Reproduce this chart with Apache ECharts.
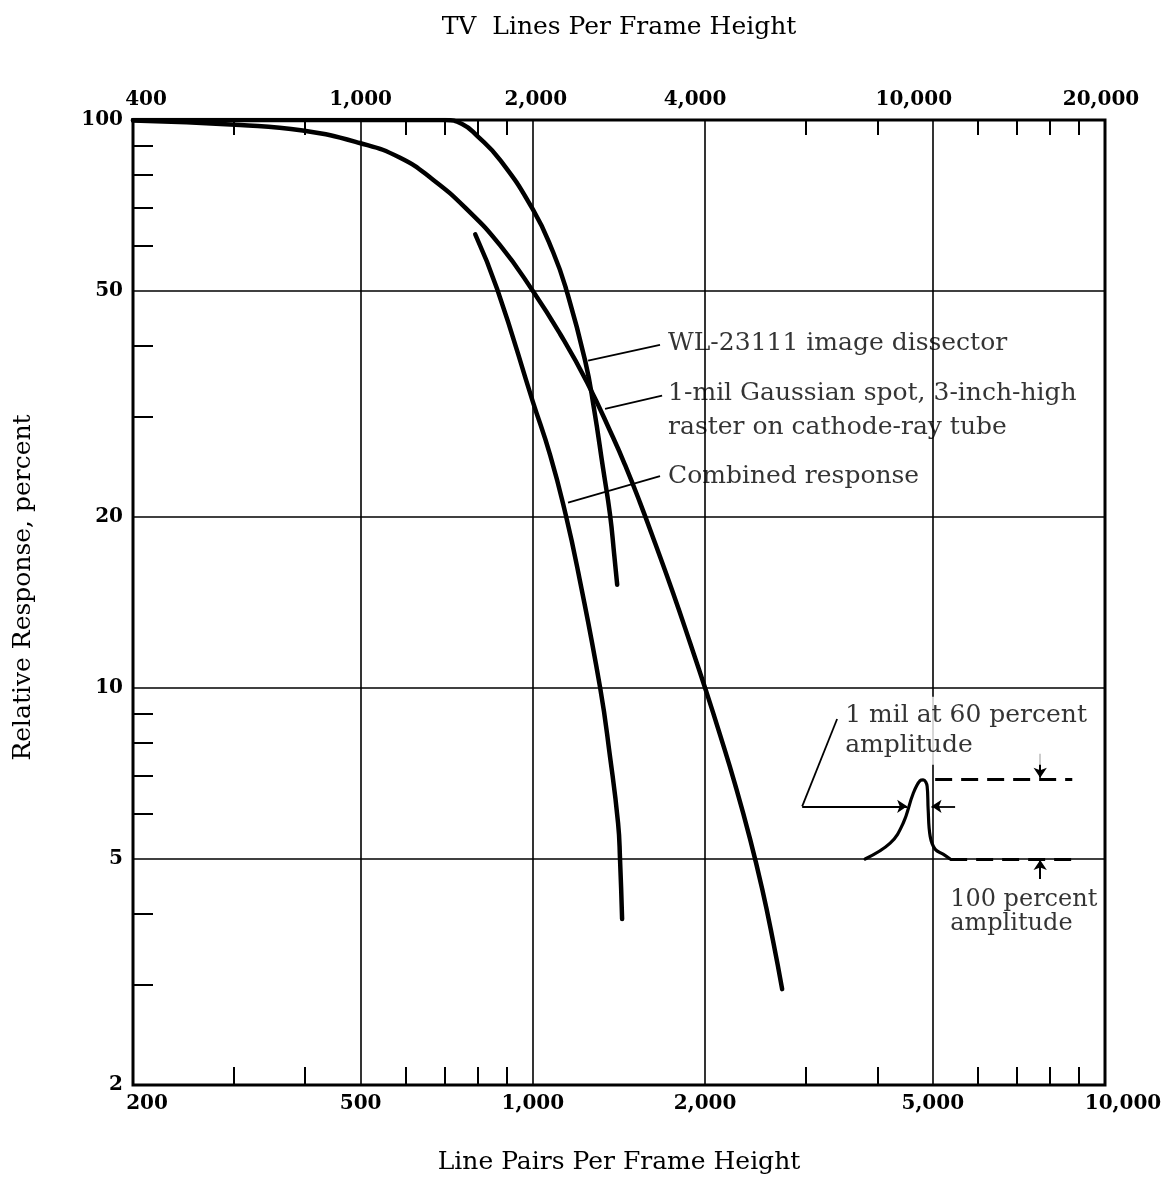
<!DOCTYPE html>
<html>
<head>
<meta charset="utf-8">
<title>Relative response vs. line pairs per frame height</title>
<script src="https://cdn.jsdelivr.net/npm/echarts@6/dist/echarts.min.js"></script>
<style>
  html, body { margin: 0; padding: 0; background: #fff; }
  #chart { width: 1165px; height: 1180px; }
</style>
</head>
<body>
<div id="chart"></div>
<script>
// ---- axes: line pairs per frame height (bottom); TV lines = 2 x line pairs (top) ----
const lpLabelValues = [200, 500, 1000, 2000, 5000, 10000];
const lpMinorTicks = [300, 400, 600, 700, 800, 900, 3000, 4000, 6000, 7000, 8000, 9000];
const tvLabelValues = [400, 1000, 2000, 4000, 10000, 20000];
const tvMinorTicks = [600, 800, 1200, 1400, 1600, 1800, 6000, 8000, 12000, 14000, 16000, 18000];
const pctLabelValues = [2, 5, 10, 20, 50, 100];
const pctMinorTicks = [3, 4, 6, 7, 8, 9, 30, 40, 60, 70, 80, 90];
const lpGridValues = [500, 1000, 2000, 5000];
const pctGridValues = [5, 10, 20, 50];

// ---- response curves (line pairs, percent) ----
const dissectorLp  = [200, 702, 752, 799, 876, 1000, 1085, 1143, 1234, 1279, 1326, 1364, 1387, 1404];
const dissectorPct = [100, 100, 98.4, 93.8, 85.1, 69.6, 58.5, 50.4, 37.7, 31.0, 24.4, 20.2, 17.2, 15.2];

const gaussLp  = [200, 308, 396, 498, 586, 669, 767, 876, 1000, 1116, 1244, 1381, 1449, 1539, 1635, 1758, 1883, 2000, 2124, 2257, 2397, 2516, 2630, 2727];
const gaussPct = [99.8, 98.0, 95.8, 91.1, 85.8, 78.5, 69.6, 60.2, 50.0, 42.0, 34.5, 27.6, 24.7, 21.2, 18.0, 14.7, 12.0, 10.0, 8.27, 6.76, 5.42, 4.43, 3.58, 2.95];

const combinedLp  = [793, 866, 1000, 1072, 1141, 1200, 1311, 1364, 1409, 1420, 1432];
const combinedPct = [62.9, 50.4, 31.9, 25.7, 20.2, 16.0, 10.0, 7.57, 5.78, 5.0, 3.92];

// ---- inset sketch of the 1-mil spot profile ----
const pulseLp  = [3808, 4212, 4438, 4621, 4752, 4810, 4888, 4908, 4948, 5048, 5212, 5362];
const pulsePct = [5.0, 5.33, 5.78, 6.52, 6.87, 6.89, 6.71, 6.11, 5.48, 5.2, 5.1, 5.0];

// ---- callout text ----
const curveNotes = ['WL-23111 image dissector', '1-mil Gaussian spot, 3-inch-high', 'raster on cathode-ray tube', 'Combined response'];
const insetNotes = ['1 mil at 60 percent\namplitude', '100 percent\namplitude'];

const FONT = 'DejaVu Serif';
const fmtNum = v => Math.round(v).toLocaleString('en-US');
const zip = (xs, ys) => xs.map((x, i) => [x, ys[i]]);

// Tick labels nudged sideways (pixels) the way they were typeset
function nudgedLabels(shifts, base) {
  const rich = {};
  Object.keys(shifts).forEach(k => {
    const s = shifts[k];
    rich['v' + k] = Object.assign({}, base, { padding: [0, s < 0 ? -2 * s : 0, 0, s > 0 ? 2 * s : 0] });
  });
  return {
    rich,
    formatter: v => {
      const r = Math.round(v);
      return shifts[r] !== undefined ? '{v' + r + '|' + fmtNum(r) + '}' : fmtNum(r);
    }
  };
}

const numStyle = { fontFamily: FONT, fontSize: 20, fontWeight: 'bold', color: '#000' };
const bottomLabels = nudgedLabels({ 200: 14, 10000: 18 }, numStyle);
const topLabels = nudgedLabels({ 400: 13, 2000: 3, 4000: -10, 10000: -19, 20000: -4 }, numStyle);

const curveStyle = { color: '#000', width: 4.5, cap: 'round', join: 'round' };
const arrowLine = { color: '#000', width: 1.8, type: 'solid' };

function curve(name, lp, pct) {
  return {
    name, type: 'line', xAxisIndex: 0, yAxisIndex: 0, z: 5,
    data: zip(lp, pct), smooth: 0.5, showSymbol: false, symbol: 'none',
    lineStyle: curveStyle, silent: true
  };
}

function arrowSeg(from, to) {
  return [{ coord: from }, { coord: to }];
}

const option = {
  backgroundColor: '#fff',
  animation: false,
  grid: {
    left: 133, right: 60, top: 120, bottom: 90,
    show: true, borderColor: '#000', borderWidth: 3, backgroundColor: 'transparent'
  },
  xAxis: [
    {
      type: 'log', logBase: 10, min: 200, max: 10000, position: 'bottom',
      name: 'Line Pairs Per Frame Height', nameLocation: 'middle', nameGap: 65,
      nameTextStyle: { fontFamily: FONT, fontSize: 25, color: '#000' },
      axisLine: { show: false },
      axisTick: { show: true, inside: true, length: 18, customValues: lpMinorTicks, lineStyle: { color: '#000', width: 2 } },
      axisLabel: Object.assign({ show: true, margin: 9, customValues: lpLabelValues }, numStyle, bottomLabels),
      splitLine: { show: false }, minorTick: { show: false }
    },
    {
      type: 'log', logBase: 10, min: 400, max: 20000, position: 'top',
      name: 'TV  Lines Per Frame Height', nameLocation: 'middle', nameGap: 80,
      nameTextStyle: { fontFamily: FONT, fontSize: 25, color: '#000' },
      axisLine: { show: false },
      axisTick: { show: true, inside: true, length: 15, customValues: tvMinorTicks, lineStyle: { color: '#000', width: 2 } },
      axisLabel: Object.assign({ show: true, margin: 10, customValues: tvLabelValues }, numStyle, topLabels),
      splitLine: { show: false }, minorTick: { show: false }
    }
  ],
  yAxis: [
    {
      type: 'log', logBase: 10, min: 2, max: 100, position: 'left',
      name: 'Relative Response, percent', nameLocation: 'middle', nameGap: 97, nameRotate: 90,
      nameTextStyle: { fontFamily: FONT, fontSize: 25, color: '#000', padding: [0, 0, 0, 30] },
      axisLine: { show: false },
      axisTick: { show: true, inside: true, length: 20, customValues: pctMinorTicks, lineStyle: { color: '#000', width: 2 } },
      axisLabel: Object.assign({ show: true, margin: 10, customValues: pctLabelValues, formatter: v => fmtNum(v) }, numStyle),
      splitLine: { show: false }, minorTick: { show: false }
    }
  ],
  series: [
    {
      // grid lines at the labelled values
      name: 'grid', type: 'line', xAxisIndex: 0, yAxisIndex: 0, data: [], z: 1, silent: true,
      markLine: {
        silent: true, symbol: ['none', 'none'], animation: false,
        label: { show: false },
        lineStyle: { color: '#000', width: 1.6, type: 'solid' },
        data: lpGridValues.map(v => ({ xAxis: v })).concat(pctGridValues.map(v => ({ yAxis: v })))
      }
    },
    curve('WL-23111 image dissector', dissectorLp, dissectorPct),
    curve('1-mil Gaussian spot', gaussLp, gaussPct),
    curve('Combined response', combinedLp, combinedPct),
    {
      // callout arrows pointing at the curves
      name: 'callouts', type: 'line', xAxisIndex: 0, yAxisIndex: 0, data: [], z: 6, silent: true,
      markLine: {
        silent: true, symbol: ['none', 'arrow'], symbolSize: [0, 11], animation: false,
        label: { show: false }, lineStyle: arrowLine,
        data: [
          arrowSeg([1668, 40.2], [1249, 37.7]),
          arrowSeg([1682, 32.7], [1337, 31.0]),
          arrowSeg([1668, 23.6], [1152, 21.2])
        ]
      }
    },
    {
      name: 'curve notes', type: 'scatter', xAxisIndex: 0, yAxisIndex: 0, z: 7, silent: true,
      symbolSize: 0,
      label: { show: true, position: 'right', distance: 0, fontFamily: FONT, fontSize: 25, color: '#000', formatter: p => p.data.text },
      data: [
        { value: [1723, 40.4], text: curveNotes[0] },
        { value: [1723, 33.0], text: curveNotes[1] },
        { value: [1723, 28.7], text: curveNotes[2] },
        { value: [1723, 23.6], text: curveNotes[3] }
      ]
    },
    {
      // spot profile inset with its amplitude and width markers
      name: 'spot profile', type: 'line', xAxisIndex: 0, yAxisIndex: 0, z: 5, silent: true,
      data: zip(pulseLp, pulsePct), smooth: 0.4, showSymbol: false, symbol: 'none',
      lineStyle: { color: '#000', width: 3.2, cap: 'round' },
      markLine: {
        silent: true, animation: false, label: { show: false },
        symbol: ['none', 'none'],
        lineStyle: { color: '#000', width: 3, type: [17, 9] },
        data: [
          [{ coord: [5048, 6.9] }, { coord: [8766, 6.9] }],
          [{ coord: [5362, 5.0] }, { coord: [8977, 5.0] }],
          [{ coord: [2956, 6.19], lineStyle: { type: 'solid', width: 1.8 } }, { coord: [3402, 8.82] }],
          [{ coord: [2956, 6.19], symbol: 'none', lineStyle: { type: 'solid', width: 1.8 } }, { coord: [4510, 6.19], symbol: 'arrow', symbolSize: 10 }],
          [{ coord: [5470, 6.19], symbol: 'none', lineStyle: { type: 'solid', width: 1.8 } }, { coord: [4975, 6.19], symbol: 'arrow', symbolSize: 10 }],
          [{ coord: [7704, 7.66], symbol: 'none', lineStyle: { type: 'solid', width: 2 } }, { coord: [7704, 6.95], symbol: 'arrow', symbolSize: 10 }],
          [{ coord: [7704, 4.61], symbol: 'none', lineStyle: { type: 'solid', width: 2 } }, { coord: [7704, 4.98], symbol: 'arrow', symbolSize: 10 }]
        ]
      }
    },
    {
      name: 'inset notes', type: 'scatter', xAxisIndex: 0, yAxisIndex: 0, z: 7, silent: true,
      symbolSize: 0,
      label: { show: true, position: 'right', distance: 0, fontFamily: FONT, fontSize: 25, color: '#000', formatter: p => p.data.text },
      data: [
        { value: [3514, 8.41], text: insetNotes[0], label: { lineHeight: 30, backgroundColor: '#fff', padding: [4, 0, 4, 0] } },
        { value: [5362, 4.03], text: insetNotes[1], label: { fontSize: 24, lineHeight: 24 } }
      ]
    }
  ]
};

const chart = echarts.init(document.getElementById('chart'), null, { renderer: 'canvas' });
chart.setOption(option);
</script>
</body>
</html>
